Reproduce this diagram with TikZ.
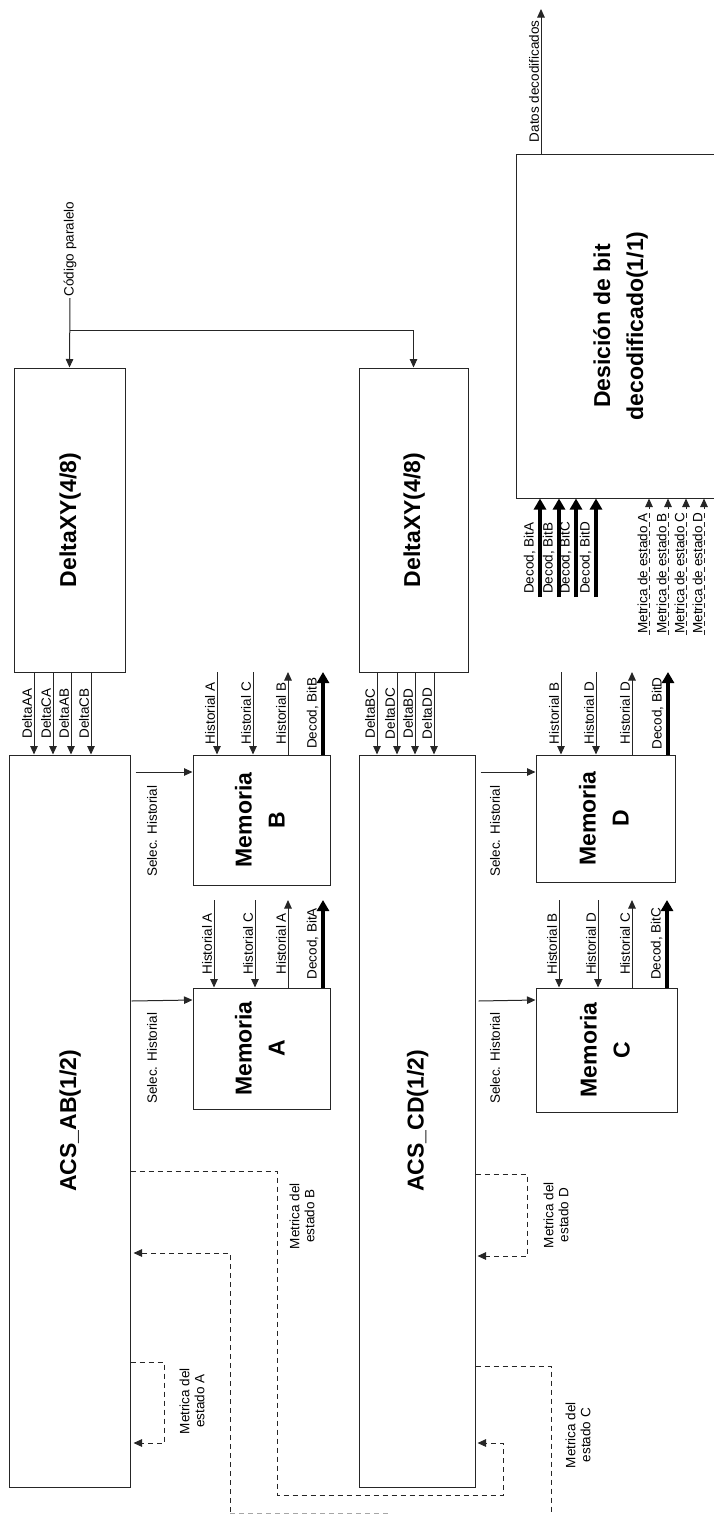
\documentclass[tikz,border=0pt]{standalone}
\usepackage{fontspec}
\setmainfont{Liberation Sans}
\usetikzlibrary{arrows.meta}

\newcommand{\vtxt}[1]{\rotatebox{90}{\begin{tabular}{@{}c@{}}#1\end{tabular}}}

\begin{document}
\begin{tikzpicture}[x=1pt,y=-1pt,
    blk/.style={draw=black!85,line width=1pt,inner sep=0pt,
        font=\fontsize{23}{33}\selectfont\bfseries},
    sig/.style={draw=black!85,line width=1pt,-{Triangle[width=7.5pt,length=8.5pt]}},
    bus/.style={draw=black,line width=3.4pt,-{Triangle[width=12pt,length=11pt]}},
    met/.style={sig,dash pattern=on 5pt off 4pt},
    lbl/.style={font=\fontsize{13.5}{15}\selectfont,rotate=90,inner sep=1.5pt},
    lbl2/.style={lbl,align=center}]
    \useasboundingbox (0,0) rectangle (714,1515);
    \clip (0,0) rectangle (714,1515);

    \node[blk,minimum width=111,minimum height=304] (dxy1) at (69.5,520) {\vtxt{DeltaXY(4/8)}};
    \node[blk,minimum width=109,minimum height=304] (dxy2) at (413.5,520) {\vtxt{DeltaXY(4/8)}};
    \node[blk,minimum width=121,minimum height=732] (acsab) at (69.5,1121) {\vtxt{ACS\_AB(1/2)}};
    \node[blk,minimum width=116,minimum height=732] (acscd) at (417,1121) {\vtxt{ACS\_CD(1/2)}};
    \node[blk,minimum width=137,minimum height=130] (memb) at (261.5,820) {\vtxt{Memoria\\B}};
    \node[blk,minimum width=137,minimum height=121] (mema) at (261.5,1048.5) {\vtxt{Memoria\\A}};
    \node[blk,minimum width=139,minimum height=127] (memd) at (605.5,818.5) {\vtxt{Memoria\\D}};
    \node[blk,minimum width=141,minimum height=124] (memc) at (606.5,1050) {\vtxt{Memoria\\C}};
    \node[blk,minimum width=208,minimum height=344] (dec) at (620,326) {\vtxt{Desición de bit\\decodificado(1/1)}};

    \coordinate (cp) at (70,298);
    \coordinate (br) at (70,330);
    \coordinate (rowab) at (0,672);
    \coordinate (rowcd) at (0,900);
    \coordinate (busin) at (0,597);
    \coordinate (metin) at (0,635);

    \node[lbl,anchor=west] at (cp) {Código paralelo};
    \draw[sig] (cp) -- (dxy1.north);
    \draw[sig] (br) -| (dxy2.north);

    \foreach \x/\t in {34/DeltaAA,53/DeltaCA,71/DeltaAB,91/DeltaCB}
        \draw[sig] (\x,0 |- dxy1.south) -- (\x,0 |- acsab.north) node[lbl,midway,anchor=south]{\t};
    \foreach \x/\t in {377/DeltaBC,397/DeltaDC,415/DeltaBD,434/DeltaDD}
        \draw[sig] (\x,0 |- dxy2.south) -- (\x,0 |- acscd.north) node[lbl,midway,anchor=south]{\t};

    \foreach \x/\t in {217/A,253/C}
        \draw[sig] (\x,0 |- rowab) -- (\x,0 |- memb.north) node[lbl,midway,anchor=south]{Historial \t};
    \draw[sig] (288,0 |- memb.north) -- (288,0 |- rowab) node[lbl,midway,anchor=south]{Historial B};
    \draw[bus] (323,0 |- memb.north) -- (323,0 |- rowab) node[lbl,midway,anchor=south,inner ysep=3pt]{Decod, BitB};

    \foreach \x/\t in {214/A,255/C}
        \draw[sig] (\x,0 |- rowcd) -- (\x,0 |- mema.north) node[lbl,midway,anchor=south]{Historial \t};
    \draw[sig] (288,0 |- mema.north) -- (288,0 |- rowcd) node[lbl,midway,anchor=south]{Historial A};
    \draw[bus] (323,0 |- mema.north) -- (323,0 |- rowcd) node[lbl,midway,anchor=south,inner ysep=3pt]{Decod, BitA};

    \foreach \x/\t in {561/B,596/D}
        \draw[sig] (\x,0 |- rowab) -- (\x,0 |- memd.north) node[lbl,midway,anchor=south]{Historial \t};
    \draw[sig] (632,0 |- memd.north) -- (632,0 |- rowab) node[lbl,midway,anchor=south]{Historial D};
    \draw[bus] (668,0 |- memd.north) -- (668,0 |- rowab) node[lbl,midway,anchor=south,inner ysep=3pt]{Decod, BitD};

    \foreach \x/\t in {559/B,598/D}
        \draw[sig] (\x,0 |- rowcd) -- (\x,0 |- memc.north) node[lbl,midway,anchor=south]{Historial \t};
    \draw[sig] (632,0 |- memc.north) -- (632,0 |- rowcd) node[lbl,midway,anchor=south]{Historial C};
    \draw[bus] (667,0 |- memc.north) -- (667,0 |- rowcd) node[lbl,midway,anchor=south,inner ysep=3pt]{Decod, BitC};

    \draw[sig] ([xshift=5pt]acsab.east |- 0,772) -- (memb.west |- 0,772);
    \draw[sig] ([xshift=1pt]acsab.east |- 0,1001) -- (mema.west |- 0,1000);
    \draw[sig] ([xshift=5pt]acscd.east |- 0,772) -- (memd.west |- 0,772);
    \draw[sig] ([xshift=3pt]acscd.east |- 0,1001) -- (memc.west |- 0,1000);
    \node[lbl,anchor=east] at (152,784) {Selec. Historial};
    \node[lbl,anchor=east] at (152,1011) {Selec. Historial};
    \node[lbl,anchor=east] at (495,784) {Selec. Historial};
    \node[lbl,anchor=east] at (495,1011) {Selec. Historial};

    \draw[sig] (541,0 |- dec.north) -- (541,9) node[lbl,midway,anchor=south]{Datos decodificados};
    \foreach \x/\t in {540/A,559/B,576/C,596/D}
        \draw[bus] (\x,0 |- busin) -- (\x,0 |- dec.south) node[lbl,pos=0,anchor=south west,inner ysep=3pt]{Decod, Bit\t};
    \foreach \x/\t in {649/A,668/B,686/C,704/D}
        \draw[met] (\x,0 |- metin) -- (\x,0 |- dec.south) node[lbl,pos=0,anchor=south west,inner sep=1pt]{Metrica de estado \t};

    \draw[met] (acsab.east |- 0,1362) -- (164,1362) -- (164,1443) -- ([xshift=3pt]acsab.east |- 0,1443);
    \node[lbl2] at (192,1401) {Metrica del\\estado A};
    \draw[met] (acsab.east |- 0,1171) -- (277,1171) -- (277,1495) -- (503,1495) -- (503,1443) -- ([xshift=2pt]acscd.east |- 0,1443);
    \node[lbl2] at (302,1216) {Metrica del\\estado B};
    \draw[met] (acscd.east |- 0,1174) -- (527,1174) -- (527,1256) -- ([xshift=2pt]acscd.east |- 0,1256);
    \node[lbl2] at (556,1215) {Metrica del\\estado D};
    \draw[met,-] (acscd.east |- 0,1366) -- (551,1366) -- (551,1530);
    \node[lbl2] at (578,1435) {Metrica del\\estado C};
    \draw[met] (230,1530) -- (230,1253) -- ([xshift=3pt]acsab.east |- 0,1253);
    \draw[dash pattern=on 5pt off 4pt,black!35,line width=1pt] (230,1513) -- (390,1513);
\end{tikzpicture}
\end{document}
